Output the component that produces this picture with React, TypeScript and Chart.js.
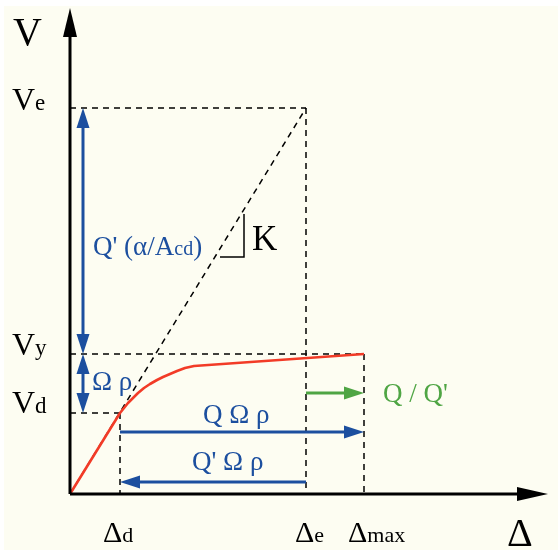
import React, { useEffect, useRef } from "react";
import { Chart, registerables } from "chart.js";

Chart.register(...registerables);

// Characteristic displacements (Δd, Δe, Δmax) and shears (Vd, Vy, Ve), in drawing units
const deltaNames = ["d", "e", "max"];
const deltaValues = [50, 236, 294];
const shearNames = ["d", "y", "e"];
const shearValues = [81, 140, 386];

// Capacity curve (red)
const curveX = [0, 50, 54, 58, 63, 68, 74, 80, 87, 93, 100, 107, 115, 124, 294];
const curveY = [0, 81, 86, 91, 96, 101, 106, 110, 114, 117, 120, 123, 126, 128, 140];

const FONT = "'Liberation Serif', 'DejaVu Serif', serif";
const BLUE = "#1c4f9f";
const GREEN = "#4fa544";
const RED = "#f23b27";
const BG = "#fdfdf2";

function seg(x1: number, y1: number, x2: number, y2: number) {
  return [{ x: x1, y: y1 }, { x: x2, y: y2 }];
}

export default function App() {
  const ref = useRef<HTMLCanvasElement | null>(null);

  useEffect(() => {
    if (!ref.current) return;
    const [dD, dE, dMax] = deltaValues;
    const [vD, vY, vE] = shearValues;

    const dashed = (data: any[]) => ({
      data,
      showLine: true,
      borderColor: "#000",
      borderWidth: 1.5,
      borderDash: [6, 5],
      pointRadius: 0,
      order: 5,
    });

    const datasets: any[] = [
      {
        data: curveX.map((x, i) => ({ x, y: curveY[i] })),
        showLine: true,
        borderColor: RED,
        borderWidth: 2.6,
        pointRadius: 0,
        tension: 0,
        borderJoinStyle: "round",
        order: 0,
      },
      dashed(seg(0, 0, dE, vE)),
      dashed(seg(0, vE, dE, vE)),
      dashed(seg(0, vY, dMax, vY)),
      dashed(seg(0, vD, dD, vD)),
      dashed(seg(dD, vD, dD, 0)),
      dashed(seg(dE, vE, dE, 0)),
      dashed(seg(dMax, vY, dMax, 0)),
    ];

    const overlay = {
      id: "overlay",
      beforeDraw(chart: any) {
        const c = chart.ctx;
        c.save();
        c.fillStyle = "#ffffff";
        c.fillRect(0, 0, chart.width, chart.height);
        c.fillStyle = BG;
        c.fillRect(4, 6, chart.width - 4, chart.height - 6);
        c.restore();
      },
      afterDatasetsDraw(chart: any) {
        const c = chart.ctx;
        const xs = chart.scales.x;
        const ys = chart.scales.y;
        const px = (v: number) => xs.getPixelForValue(v);
        const py = (v: number) => ys.getPixelForValue(v);

        const arrow = (x1: number, y1: number, x2: number, y2: number, color: string, w: number, headL: number, headW: number, both = false) => {
          const X1 = px(x1), Y1 = py(y1), X2 = px(x2), Y2 = py(y2);
          const ang = Math.atan2(Y2 - Y1, X2 - X1);
          const head = (tx: number, ty: number, a: number) => {
            c.beginPath();
            c.moveTo(tx, ty);
            c.lineTo(tx - headL * Math.cos(a) + headW * Math.sin(a), ty - headL * Math.sin(a) - headW * Math.cos(a));
            c.lineTo(tx - headL * Math.cos(a) - headW * Math.sin(a), ty - headL * Math.sin(a) + headW * Math.cos(a));
            c.closePath();
            c.fill();
          };
          c.save();
          c.strokeStyle = color;
          c.fillStyle = color;
          c.lineWidth = w;
          c.beginPath();
          const sx = both ? X1 + (headL - 2) * Math.cos(ang) : X1;
          const sy = both ? Y1 + (headL - 2) * Math.sin(ang) : Y1;
          c.moveTo(sx, sy);
          c.lineTo(X2 - (headL - 2) * Math.cos(ang), Y2 - (headL - 2) * Math.sin(ang));
          c.stroke();
          head(X2, Y2, ang);
          if (both) head(X1, Y1, ang + Math.PI);
          c.restore();
        };

        // axes
        arrow(0, 0, 0, 486, "#000", 3, 29, 7);
        arrow(0, 0, 478, 0, "#000", 3, 31, 7);

        // blue dimension arrows
        arrow(13, vY, 13, vE, BLUE, 3, 20, 6.5, true);
        arrow(13, vD, 13, vY, BLUE, 3, 20, 6.5, true);
        arrow(dD, 62, dMax, 62, BLUE, 3, 20, 6.5);
        arrow(dE, 12, dD, 12, BLUE, 3, 20, 6.5);
        // green arrow
        arrow(dE, 101, dMax, 101, GREEN, 3, 20, 6.5);

        // stiffness triangle
        c.save();
        c.strokeStyle = "#000";
        c.lineWidth = 1.5;
        c.beginPath();
        c.moveTo(px(150), py(237));
        c.lineTo(px(174), py(237));
        c.lineTo(px(174), py(280));
        c.stroke();
        c.restore();

        const text = (parts: [string, number][], x: number, y: number, color: string) => {
          c.save();
          c.fillStyle = color;
          c.textBaseline = "alphabetic";
          c.textAlign = "left";
          let X = px(x);
          const Y = py(y);
          for (const [s, size] of parts) {
            c.font = `${size}px ${FONT}`;
            c.fillText(s, X, Y);
            X += c.measureText(s).width;
          }
          c.restore();
        };

        text([["V", 40]], -57, 449, "#000");
        text([["Δ", 40]], 437, -52, "#000");
        const vLabelY = [81, 139, 384];
        shearNames.forEach((n, i) => text([["V", 32], [n, 23]], -58, vLabelY[i], "#000"));
        const dLabelX = [33, 225, 278];
        deltaNames.forEach((n, i) => text([["Δ", 30], [n, 22]], dLabelX[i], -48, "#000"));
        text([["K", 35]], 182, 244, "#000");

        text([["Q' (α/A", 27], ["cd", 20], [")", 27]], 23, 239, BLUE);
        text([["Ω ρ", 27]], 22, 104, BLUE);
        text([["Q Ω ρ", 27]], 133, 71, BLUE);
        text([["Q' Ω ρ", 27]], 122, 24, BLUE);
        text([["Q / Q'", 27]], 313, 92, GREEN);
      },
    };

    const chart = new Chart(ref.current, {
      type: "scatter",
      data: { datasets },
      options: {
        animation: false,
        responsive: false,
        maintainAspectRatio: false,
        layout: { padding: 0 },
        plugins: { legend: { display: false }, tooltip: { enabled: false } },
        scales: {
          x: { type: "linear", min: -70, max: 488, display: false },
          y: { type: "linear", min: -56, max: 494, display: false },
        },
      },
      plugins: [overlay],
    } as any);
    return () => chart.destroy();
  }, []);

  return (
    <div style={{ position: "fixed", left: 0, top: 0, width: 558, height: 550 }}>
      <canvas ref={ref} width={558} height={550} style={{ display: "block" }} />
    </div>
  );
}
